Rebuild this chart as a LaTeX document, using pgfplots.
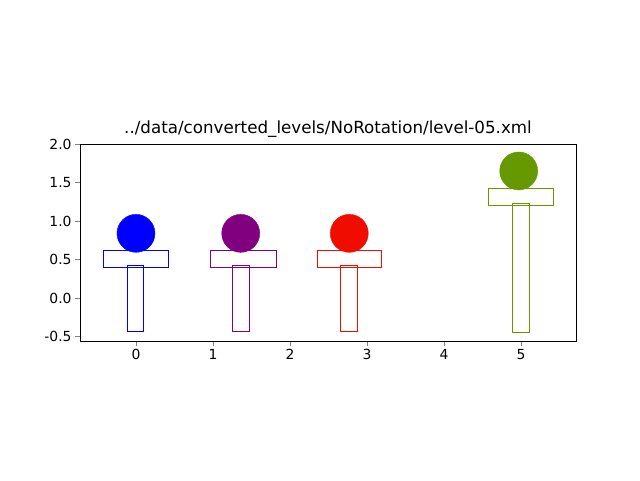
\documentclass[border=0pt]{standalone}
\usepackage{pgfplots}
\pgfplotsset{compat=1.18}
\usepackage{fontspec}
\setmainfont{DejaVu Sans}
\begin{document}
\begin{tikzpicture}[x=1pt,y=1pt]
\useasboundingbox (0,0) rectangle (640,480);
\definecolor{gr}{HTML}{669900}
\definecolor{rd}{HTML}{F00D00}
\definecolor{pu}{HTML}{800080}
\definecolor{bl}{HTML}{0000FF}
\begin{axis}[at={(80pt,139pt)},anchor=south west,width=496pt,height=197pt,scale only axis,
xmin=-0.727,xmax=5.714,ymin=-0.558,ymax=2.0,
xtick={0,1,2,3,4,5},ytick={-0.5,0,0.5,1.0,1.5,2.0},
yticklabel style={/pgf/number format/.cd,fixed,fixed zerofill,precision=1},
/pgf/number format/assume math mode=true,
tick align=outside,xtick pos=left,ytick pos=left,major tick length=4.9pt,
ticklabel style={font=\fontsize{13.9}{16}\selectfont},
title={../data/converted\_levels/NoRotation/level-05.xml},
title style={font=\fontsize{16.7}{19}\selectfont,yshift=-3pt},
clip=false]
% blue
\addplot[color=bl] coordinates {(-0.43,0.40)(0.42,0.40)(0.42,0.62)(-0.43,0.62)(-0.43,0.40)};
\addplot[color=bl] coordinates {(-0.12,-0.43)(0.10,-0.43)(0.10,0.43)(-0.12,0.43)(-0.12,-0.43)};
\addplot[only marks,mark=*,mark size=19pt,color=bl] coordinates {(0,0.84)};
% purple
\addplot[color=pu] coordinates {(0.96,0.40)(1.82,0.40)(1.82,0.62)(0.96,0.62)(0.96,0.40)};
\addplot[color=pu] coordinates {(1.25,-0.43)(1.47,-0.43)(1.47,0.43)(1.25,0.43)(1.25,-0.43)};
\addplot[only marks,mark=*,mark size=19pt,color=pu] coordinates {(1.36,0.84)};
% red
\addplot[color=rd] coordinates {(2.35,0.40)(3.19,0.40)(3.19,0.62)(2.35,0.62)(2.35,0.40)};
\addplot[color=rd] coordinates {(2.65,-0.43)(2.87,-0.43)(2.87,0.43)(2.65,0.43)(2.65,-0.43)};
\addplot[only marks,mark=*,mark size=19pt,color=rd] coordinates {(2.77,0.84)};
% green
\addplot[color=gr] coordinates {(4.57,1.21)(5.42,1.21)(5.42,1.43)(4.57,1.43)(4.57,1.21)};
\addplot[color=gr] coordinates {(4.88,-0.44)(5.10,-0.44)(5.10,1.23)(4.88,1.23)(4.88,-0.44)};
\addplot[only marks,mark=*,mark size=19pt,color=gr] coordinates {(4.97,1.65)};
\end{axis}
\end{tikzpicture}
\end{document}
